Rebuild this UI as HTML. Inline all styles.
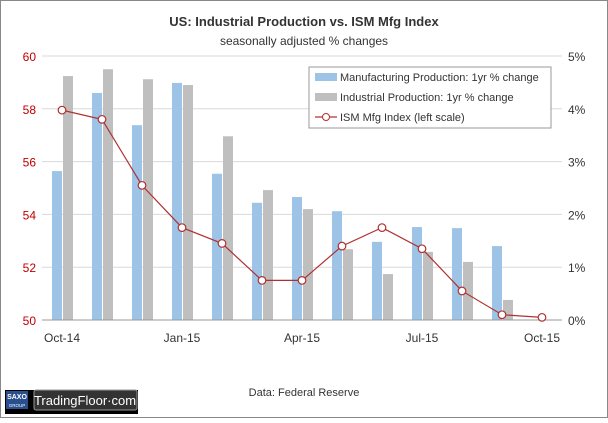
<!DOCTYPE html>
<html><head><meta charset="utf-8"><style>
body{margin:0;background:#fff;}
svg text{font-family:"Liberation Sans",sans-serif;}
</style></head><body>
<svg width="608" height="418" viewBox="0 0 608 418">
<rect x="0.5" y="0.5" width="607" height="417" fill="#fff" stroke="#888"/>
<text x="304" y="26" text-anchor="middle" font-size="13" font-weight="bold" fill="#333">US: Industrial Production vs. ISM Mfg Index</text>
<text x="304" y="45" text-anchor="middle" font-size="12" fill="#333">seasonally adjusted % changes</text>
<g id="plot"></g>
<g>
<rect x="309" y="67" width="242" height="61" fill="#fff" stroke="#999"/>
<rect x="315" y="73" width="22" height="8" fill="#9dc3e6"/>
<text x="340" y="81" font-size="11" fill="#333">Manufacturing Production: 1yr % change</text>
<rect x="315" y="93" width="22" height="8" fill="#bfbfbf"/>
<text x="340" y="101" font-size="11" fill="#333">Industrial Production: 1yr % change</text>
<line x1="315" y1="117" x2="337" y2="117" stroke="#b03030" stroke-width="1.2"/>
<circle cx="326" cy="117" r="3.5" fill="#fff" stroke="#b03030"/>
<text x="340" y="121" font-size="11" fill="#333">ISM Mfg Index (left scale)</text>
</g>
<text x="304" y="396" text-anchor="middle" font-size="11" fill="#333">Data: Federal Reserve</text>
<g>
<rect x="5" y="390" width="133" height="24" fill="#000"/>
<rect x="6" y="391" width="22" height="18" fill="#2a4f8f"/>
<text x="17" y="399" text-anchor="middle" font-size="7" font-weight="bold" fill="#fff">SAXO</text>
<text x="17" y="407" text-anchor="middle" font-size="4.5" fill="#fff">GROUP</text>
<rect x="34" y="390" width="103" height="20" rx="2" fill="#333" stroke="#999"/>
<text x="85" y="405" text-anchor="middle" font-size="13" fill="#fff">TradingFloor·com</text>
</g>
</svg>
<script>
const categories=["Oct-14","Nov-14","Dec-14","Jan-15","Feb-15","Mar-15","Apr-15","May-15","Jun-15","Jul-15","Aug-15","Sep-15","Oct-15"];
const manufacturing=[2.82,4.30,3.69,4.49,2.77,2.22,2.33,2.06,1.48,1.76,1.74,1.40,null];
const industrial=[4.62,4.75,4.56,4.45,3.48,2.46,2.10,1.34,0.87,1.29,1.10,0.38,null];
const ism=[57.95,57.6,55.1,53.5,52.9,51.5,51.5,52.8,53.5,52.7,51.1,50.2,50.1];
const leftTicks=[50,52,54,56,58,60];
const rightTicks=[0,1,2,3,4,5];
const xLabelIdx=[0,3,6,9,12];
const NS="http://www.w3.org/2000/svg";
const g=document.getElementById('plot');
const L=42,R=562,T=56,B=320;
const x=i=>62+i*(R-L-40)/(categories.length-1);
const yL=v=>B-(v-50)/10*(B-T);
const yR=v=>B-v/5*(B-T);
function el(t,a){const e=document.createElementNS(NS,t);for(const k in a)e.setAttribute(k,a[k]);g.appendChild(e);return e;}
leftTicks.forEach(v=>{
 const gl=el('line',{x1:L,x2:R,y1:yL(v),y2:yL(v),stroke:'#d9d9d9'});
 
 
 const t=el('text',{x:L-6,y:yL(v)+5,'text-anchor':'end','font-size':12,fill:'#c00000'});t.textContent=v;
 
 
});
rightTicks.forEach(v=>{
 const t=el('text',{x:R+6,y:yR(v)+5,'font-size':12,fill:'#333'});t.textContent=v+'%';
 
 
});
categories.forEach((c,i)=>{
 if(manufacturing[i]!=null){const b=el('rect',{x:x(i)-10,y:yR(manufacturing[i]),width:10,height:B-yR(manufacturing[i]),fill:'#9dc3e6'});
 
 }
 if(industrial[i]!=null){const b=el('rect',{x:x(i)+1,y:yR(industrial[i]),width:10,height:B-yR(industrial[i]),fill:'#bfbfbf'});
 
 }
});
const ax=el('line',{x1:L,x2:R,y1:B,y2:B,stroke:'#999'});


xLabelIdx.forEach(i=>{
 const t=el('text',{x:x(i),y:B+22,'text-anchor':'middle','font-size':12,fill:'#333'});t.textContent=categories[i];
 
 
});
const pl=el('polyline',{points:ism.map((v,i)=>x(i)+','+yL(v)).join(' '),fill:'none',stroke:'#b03030','stroke-width':1.2});


ism.forEach((v,i)=>{const c=el('circle',{cx:x(i),cy:yL(v),r:3.8,fill:'#fff',stroke:'#b03030','stroke-width':1.2});
 
 });
</script>
</body></html>
